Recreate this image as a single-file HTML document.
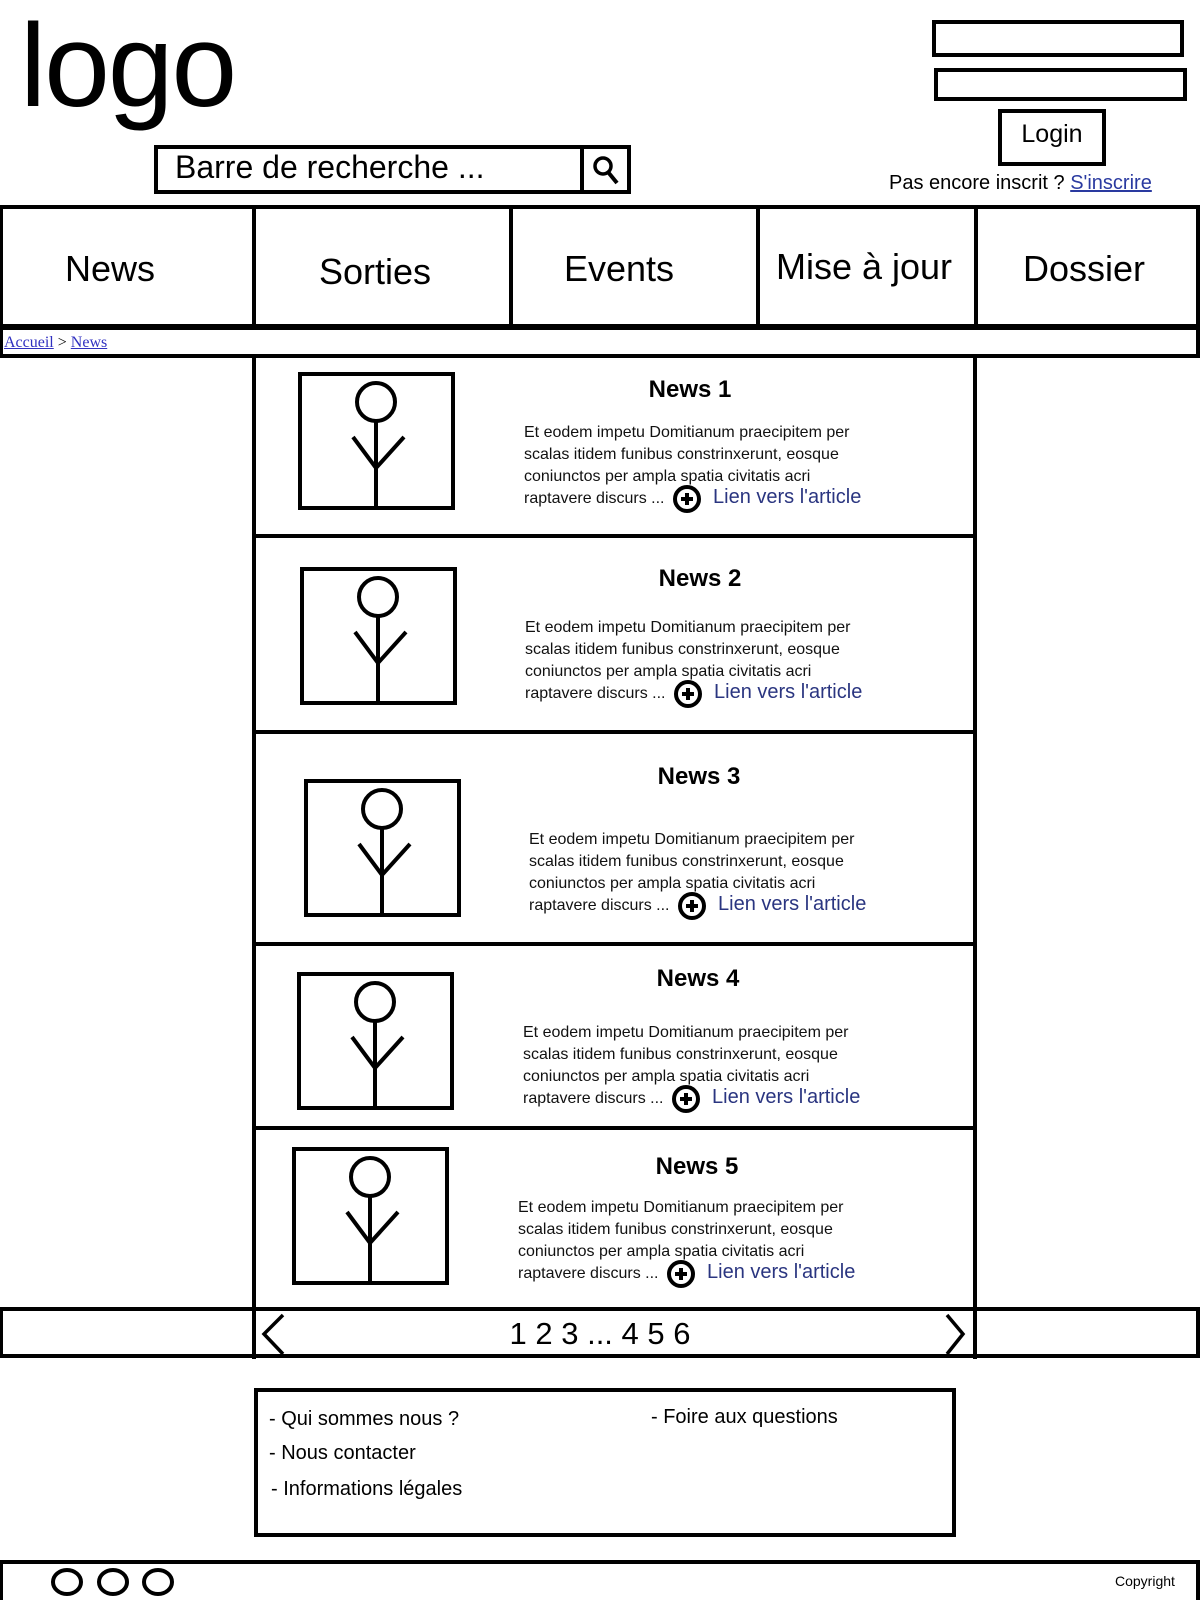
<!DOCTYPE html>
<html><head><meta charset="utf-8"><style>
*{margin:0;padding:0;box-sizing:border-box}
body{width:1200px;height:1600px;background:#fff;position:relative;overflow:hidden;font-family:"Liberation Sans",sans-serif;color:#000}
.a{position:absolute}
.b{position:absolute;border:4px solid #000}
.t{position:absolute;white-space:nowrap}
.nav{position:absolute;top:248px;font-size:36px;text-align:center;width:300px}
.body{font-size:16px;line-height:22px;color:#111}
.lk{color:#2a3580;font-size:20px}
.ttl{font-size:24px;font-weight:bold;width:300px;text-align:center}
a{color:#2020c0}
</style></head><body>
<div class="t" style="left:20px;top:-2px;font-size:118px;letter-spacing:-2px">logo</div>
<div class="b" style="left:154px;top:145px;width:477px;height:49px"></div>
<div class="a" style="left:580px;top:145px;width:4px;height:49px;background:#000"></div>
<div class="t" style="left:175px;top:149px;font-size:32px">Barre de recherche ...</div>
<svg class="a" style="left:584px;top:149px" width="44" height="42"><circle cx="19" cy="17" r="8" fill="none" stroke="#000" stroke-width="3.5"/><line x1="24" y1="23" x2="33" y2="34" stroke="#000" stroke-width="4"/></svg>
<div class="b" style="left:932px;top:20px;width:252px;height:37px"></div>
<div class="b" style="left:934px;top:68px;width:253px;height:33px"></div>
<div class="b" style="left:998px;top:109px;width:108px;height:57px"></div>
<div class="t" style="left:998px;top:120px;width:108px;text-align:center;font-size:25px">Login</div>
<div class="t" style="left:889px;top:172px;font-size:20px">Pas encore inscrit ? <a href="#" style="color:#2a3aa0">S'inscrire</a></div>

<div class="a" style="left:0;top:205px;width:1200px;height:4px;background:#000"></div>
<div class="a" style="left:0;top:324px;width:1200px;height:6px;background:#000"></div>
<div class="a" style="left:0;top:354px;width:1200px;height:4px;background:#000"></div>
<div class="a" style="left:0;top:205px;width:3px;height:153px;background:#000"></div>
<div class="a" style="left:1196px;top:205px;width:4px;height:153px;background:#000"></div>
<div class="a" style="left:252px;top:205px;width:4px;height:122px;background:#000"></div>
<div class="a" style="left:509px;top:205px;width:4px;height:122px;background:#000"></div>
<div class="a" style="left:756px;top:205px;width:4px;height:122px;background:#000"></div>
<div class="a" style="left:974px;top:205px;width:4px;height:122px;background:#000"></div>
<div class="nav" style="left:-40px">News</div>
<div class="nav" style="left:225px;top:251px">Sorties</div>
<div class="nav" style="left:469px">Events</div>
<div class="nav" style="left:714px;top:246px">Mise à jour</div>
<div class="nav" style="left:934px">Dossier</div>
<div class="t" style="left:4px;top:334px;font-family:'Liberation Serif',serif;font-size:16px"><a href="#" style="color:#3030c0">Accueil</a> &gt; <a href="#" style="color:#3030c0">News</a></div>

<div class="a" style="left:252px;top:356px;width:4px;height:1003px;background:#000"></div>
<div class="a" style="left:973px;top:356px;width:4px;height:1003px;background:#000"></div>
<div class="a" style="left:254px;top:534px;width:721px;height:4px;background:#000"></div>
<div class="a" style="left:254px;top:730px;width:721px;height:4px;background:#000"></div>
<div class="a" style="left:254px;top:942px;width:721px;height:4px;background:#000"></div>
<div class="a" style="left:254px;top:1126px;width:721px;height:4px;background:#000"></div>
<div class="a" style="left:0;top:1307px;width:1200px;height:4px;background:#000"></div>
<div class="a" style="left:0;top:1354px;width:1200px;height:4px;background:#000"></div>
<div class="a" style="left:0;top:1307px;width:3px;height:51px;background:#000"></div>
<div class="a" style="left:1196px;top:1307px;width:4px;height:51px;background:#000"></div>

<svg class="a" style="left:0;top:0" width="1200" height="1310">
<defs><g id="fig"><rect x="2" y="2" width="153" height="134" fill="none" stroke="#000" stroke-width="4"/><circle cx="78" cy="30" r="19" fill="none" stroke="#000" stroke-width="4"/><line x1="78" y1="49" x2="78" y2="136" stroke="#000" stroke-width="4"/><polyline points="55,65 78,96 106,65" fill="none" stroke="#000" stroke-width="4"/></g>
<g id="pl"><circle cx="0" cy="0" r="12" fill="none" stroke="#000" stroke-width="4"/><line x1="-6" y1="0" x2="6" y2="0" stroke="#000" stroke-width="4"/><line x1="0" y1="-6" x2="0" y2="6" stroke="#000" stroke-width="4"/></g></defs>
<use href="#fig" x="298" y="372"/>
<use href="#fig" x="300" y="567"/>
<use href="#fig" x="304" y="779"/>
<use href="#fig" x="297" y="972"/>
<use href="#fig" x="292" y="1147"/>
<use href="#pl" x="687" y="499"/>
<use href="#pl" x="688" y="694"/>
<use href="#pl" x="692" y="906"/>
<use href="#pl" x="686" y="1099"/>
<use href="#pl" x="681" y="1274"/>
</svg>

<div class="t ttl" style="left:540px;top:376px">News 1</div>
<div class="t body" style="left:524px;top:422px">Et eodem impetu Domitianum praecipitem per<br>scalas itidem funibus constrinxerunt, eosque<br>coniunctos per ampla spatia civitatis acri<br>raptavere discurs ...</div>
<div class="t lk" style="left:713px;top:486px">Lien vers l'article</div>

<div class="t ttl" style="left:550px;top:565px">News 2</div>
<div class="t body" style="left:525px;top:617px">Et eodem impetu Domitianum praecipitem per<br>scalas itidem funibus constrinxerunt, eosque<br>coniunctos per ampla spatia civitatis acri<br>raptavere discurs ...</div>
<div class="t lk" style="left:714px;top:681px">Lien vers l'article</div>

<div class="t ttl" style="left:549px;top:763px">News 3</div>
<div class="t body" style="left:529px;top:829px">Et eodem impetu Domitianum praecipitem per<br>scalas itidem funibus constrinxerunt, eosque<br>coniunctos per ampla spatia civitatis acri<br>raptavere discurs ...</div>
<div class="t lk" style="left:718px;top:893px">Lien vers l'article</div>

<div class="t ttl" style="left:548px;top:965px">News 4</div>
<div class="t body" style="left:523px;top:1022px">Et eodem impetu Domitianum praecipitem per<br>scalas itidem funibus constrinxerunt, eosque<br>coniunctos per ampla spatia civitatis acri<br>raptavere discurs ...</div>
<div class="t lk" style="left:712px;top:1086px">Lien vers l'article</div>

<div class="t ttl" style="left:547px;top:1153px">News 5</div>
<div class="t body" style="left:518px;top:1197px">Et eodem impetu Domitianum praecipitem per<br>scalas itidem funibus constrinxerunt, eosque<br>coniunctos per ampla spatia civitatis acri<br>raptavere discurs ...</div>
<div class="t lk" style="left:707px;top:1261px">Lien vers l'article</div>

<svg class="a" style="left:0;top:1310px" width="1200" height="50"><polyline points="283,5 264,24 283,44" fill="none" stroke="#000" stroke-width="3.5"/><polyline points="947,5 963,24 947,44" fill="none" stroke="#000" stroke-width="3.5"/></svg>
<div class="t" style="left:450px;top:1316px;width:300px;text-align:center;font-size:31px">1 2 3 ... 4 5 6</div>

<div class="b" style="left:254px;top:1388px;width:702px;height:149px"></div>
<div class="t" style="left:269px;top:1408px;font-size:20px">- Qui sommes nous ?</div>
<div class="t" style="left:269px;top:1442px;font-size:20px">- Nous contacter</div>
<div class="t" style="left:271px;top:1478px;font-size:20px">- Informations légales</div>
<div class="t" style="left:651px;top:1406px;font-size:20px">- Foire aux questions</div>

<div class="a" style="left:0;top:1560px;width:1200px;height:4px;background:#000"></div>
<div class="a" style="left:0;top:1560px;width:3px;height:40px;background:#000"></div>
<div class="a" style="left:1196px;top:1560px;width:4px;height:40px;background:#000"></div>
<svg class="a" style="left:0;top:1565px" width="200" height="35"><ellipse cx="67" cy="17" rx="14" ry="12" fill="none" stroke="#000" stroke-width="4"/><ellipse cx="113" cy="17" rx="14" ry="12" fill="none" stroke="#000" stroke-width="4"/><ellipse cx="158" cy="17" rx="14" ry="12" fill="none" stroke="#000" stroke-width="4"/></svg>
<div class="t" style="left:1115px;top:1573px;font-size:14px">Copyright</div>
</body></html>
